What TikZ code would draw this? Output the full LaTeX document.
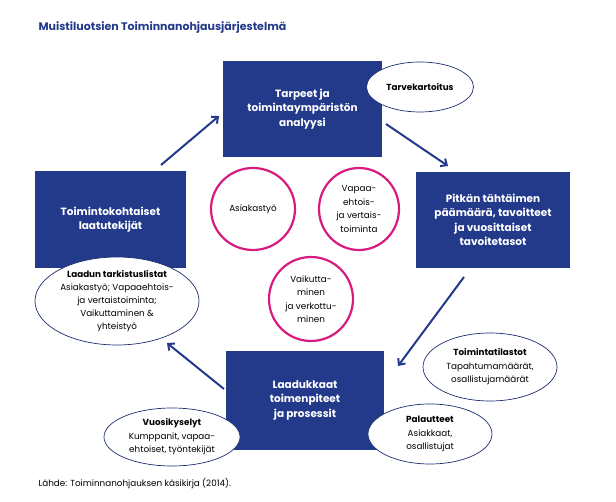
\documentclass[tikz,border=0pt]{standalone}
\usepackage{fontspec}
\setmainfont{Poppins}
\usetikzlibrary{shapes.geometric,arrows.meta}
\definecolor{dblue}{HTML}{233A8B}
\definecolor{mag}{HTML}{D81B7E}
\begin{document}
\begin{tikzpicture}[x=1pt,y=-1pt,
  box/.style={fill=dblue,text=white,font=\fontsize{10.5}{14.5}\selectfont\bfseries,align=center,inner sep=0},
  oval/.style={ellipse,draw=dblue!80!black,fill=white,line width=0.7pt,align=center,font=\fontsize{8.8}{13.5}\selectfont,inner sep=0},
  ring/.style={ellipse,draw=mag,line width=2.2pt,align=center,font=\fontsize{8.8}{13.5}\selectfont,inner sep=0},
  arr/.style={-{Straight Barb[length=5pt,width=9pt]},dblue,line width=2pt}]
\useasboundingbox (0,0) rectangle (616,502);
\node[anchor=west,text=dblue,font=\fontsize{11}{13}\selectfont\bfseries] (title) at (35,28) {Muistiluotsien Toiminnanohjausjärjestelmä};
\node[box,minimum width=159,minimum height=96] (top) at (302.5,109) {Tarpeet ja\\toimintaympäristön\\analyysi};
\node[box,minimum width=151,minimum height=97] (left) at (110.5,219.5) {Toimintokohtaiset\\laatutekijät};
\node[box,minimum width=154,minimum height=96] (right) at (493,220) {Pitkän tähtäimen\\päämäärä, tavoitteet\\ja vuosittaiset\\tavoitetasot};
\node[box,minimum width=158,minimum height=99] (bot) at (305,400.5) {Laadukkaat\\toimenpiteet\\ja prosessit};
\node[ring,minimum width=84,minimum height=82] (c1) at (253,209) {Asiakastyö};
\node[ring,minimum width=80,minimum height=82] (c2) at (359,209) {Vapaa-\\ehtois-\\ja vertais-\\toiminta};
\node[ring,minimum width=84,minimum height=84] (c3) at (311,299) {Vaikutta-\\minen\\ja verkottu-\\minen};
\node[oval,minimum width=107,minimum height=50] (e1) at (420,87) {\textbf{Tarvekartoitus}};
\node[oval,minimum width=164,minimum height=88,font=\fontsize{8.8}{13}\selectfont] (e2) at (117,301) {\textbf{Laadun tarkistuslistat}\\Asiakastyö; Vapaaehtois-\\ja vertaistoiminta;\\Vaikuttaminen \&\\yhteistyö};
\node[oval,minimum width=134,minimum height=68] (e3) at (490,367) {\textbf{Toimintatilastot}\\Tapahtumamäärät,\\osallistujamäärät};
\node[oval,minimum width=124,minimum height=60] (e4) at (430,434) {\textbf{Palautteet}\\Asiakkaat,\\osallistujat};
\node[oval,minimum width=136,minimum height=58] (e5) at (172,437) {\textbf{Vuosikyselyt}\\Kumppanit, vapaa-\\ehtoiset, työntekijät};
\node[anchor=west,font=\fontsize{8.8}{11}\selectfont] (src) at (35,484) {Lähde: Toiminnanohjauksen käsikirja (2014).};
\coordinate (a1s) at (161,165); \coordinate (a1e) at (219,116);
\coordinate (a2s) at (386,124); \coordinate (a2e) at (448,166);
\coordinate (a3s) at (464,277); \coordinate (a3e) at (398,366);
\coordinate (a4s) at (224,389); \coordinate (a4e) at (167,343);
\draw[arr] (a1s) -- (a1e);
\draw[arr] (a2s) -- (a2e);
\draw[arr] (a3s) -- (a3e);
\draw[arr] (a4s) -- (a4e);
\end{tikzpicture}
\end{document}
